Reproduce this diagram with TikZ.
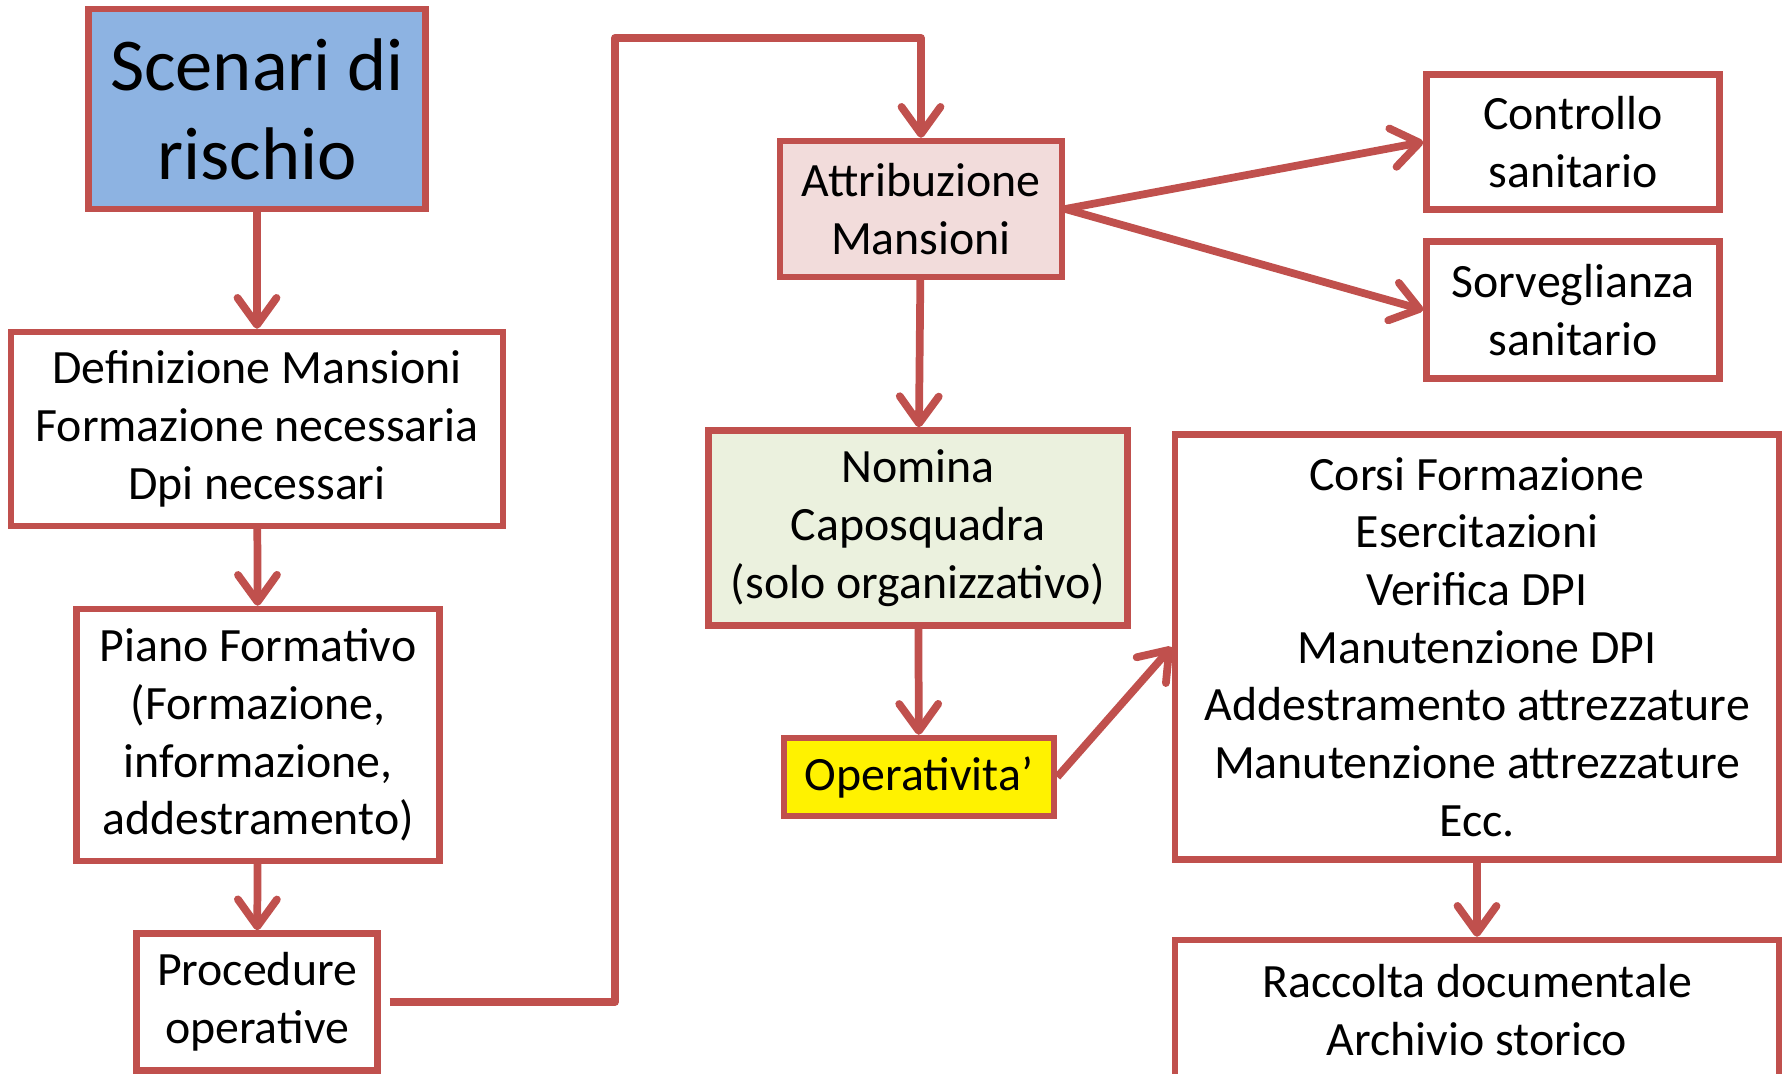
\documentclass[tikz,border=0pt]{standalone}
\usepackage{fontspec}
\setmainfont{Carlito}
\usetikzlibrary{arrows.meta}
\definecolor{flowred}{RGB}{192,80,77}
\definecolor{riskblue}{RGB}{141,179,226}
\definecolor{taskpink}{RGB}{242,220,219}
\definecolor{leadgreen}{RGB}{235,241,222}
\begin{document}
\begin{tikzpicture}[x=0.01cm,y=-0.01cm,
    box/.style={draw=flowred,line width=1.8pt,align=center,inner sep=0pt,
        font=\fontsize{13.6}{16.4}\selectfont},
    flow/.style={draw=flowred,line width=2.2pt,line join=round,
        -{Straight Barb[length=2.7mm,width=3.9mm,round]}}]
    \useasboundingbox (0,0) rectangle (1785,1074);
    \clip (0,0) rectangle (1785,1074);

    % Left column
    \node[box,fill=riskblue,minimum width=3.37cm,minimum height=2cm,
        font=\fontsize{21.2}{25.3}\selectfont] (risk) at (257,109) {Scenari di\\rischio};
    \node[box,minimum width=4.92cm,minimum height=1.94cm] (define) at (257,429)
        {Definizione Mansioni\\Formazione necessaria\\Dpi necessari};
    \node[box,minimum width=3.63cm,minimum height=2.52cm] (plan) at (258,735)
        {Piano Formativo\\(Formazione,\\informazione,\\addestramento)};
    \node[box,minimum width=2.41cm,minimum height=1.37cm] (proc) at (257,1002)
        {Procedure\\operative};

    % Middle column
    \node[box,fill=taskpink,minimum width=2.82cm,minimum height=1.36cm] (assign) at (921,209)
        {Attribuzione\\Mansioni};
    \node[box,fill=leadgreen,minimum width=4.19cm,minimum height=1.95cm] (leader) at (918,528)
        {Nomina\\Caposquadra\\(solo organizzativo)};
    \node[box,fill=yellow,minimum width=2.7cm,minimum height=0.78cm] (oper) at (919,777)
        {Operativita’};

    % Right column
    \node[box,minimum width=2.93cm,minimum height=1.35cm] (check) at (1573,142)
        {Controllo\\sanitario};
    \node[box,minimum width=2.93cm,minimum height=1.37cm] (watch) at (1573,310)
        {Sorveglianza\\sanitario};
    \node[box,minimum width=6.04cm,minimum height=4.25cm] (course) at (1477,647)
        {Corsi Formazione\\Esercitazioni\\Verifica DPI\\Manutenzione DPI\\Addestramento attrezzature\\Manutenzione attrezzature\\Ecc.};
    \node[box,minimum width=6.04cm,minimum height=1.4cm] (archive) at (1477,1010)
        {Raccolta documentale\\Archivio storico};

    % Vertical flow
    \draw[flow] (risk) -- (define);
    \draw[flow] (define) -- (plan);
    \draw[flow] (plan) -- (proc);
    \draw[flow] (assign) -- (leader);
    \draw[flow] (leader) -- (oper);
    \draw[flow] (course) -- (archive);

    % Link from procedures to task assignment
    \coordinate (procout) at ([xshift=0.09cm]proc.east);
    \coordinate (risetop) at (615,38);
    \draw[flow] (procout) -| (risetop) -| (assign.north);

    % Side branches
    \draw[flow] (assign.east) -- (check.west);
    \draw[flow] (assign.east) -- (watch.west);
    \draw[flow] (oper.east) -- (course.west);
\end{tikzpicture}
\end{document}
